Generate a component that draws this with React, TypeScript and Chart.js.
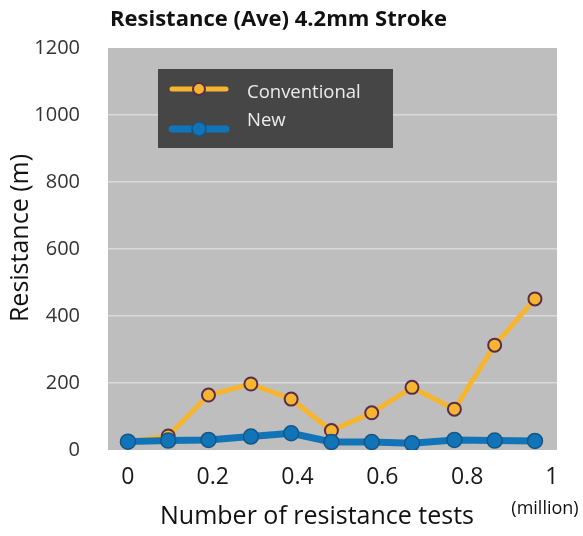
import React, { useEffect, useRef } from "react";
import { Chart, registerables } from "chart.js";

Chart.register(...registerables);

const TITLE = "Resistance (Ave) 4.2mm Stroke";
const Y_TITLE = "Resistance (m)";
const X_TITLE = "Number of resistance tests";
const X_UNIT = "(million)";

const xValues = [0, 0.095, 0.19, 0.29, 0.385, 0.48, 0.575, 0.67, 0.77, 0.865, 0.96];
const conventional = [25, 42, 164, 197, 152, 58, 111, 187, 122, 313, 451];
const newValues = [25, 28, 30, 40, 50, 24, 24, 20, 30, 28, 27];
const xTicks = [0, 0.2, 0.4, 0.6, 0.8, 1];
const yTicks = [0, 200, 400, 600, 800, 1000, 1200];
const seriesLabels = ["Conventional", "New"];

const FONT = "'Open Sans', 'DejaVu Sans', sans-serif";

const bgPlugin = {
  id: "plotBg",
  beforeDraw(chart: any) {
    const { ctx, chartArea } = chart;
    ctx.save();
    ctx.fillStyle = "#ffffff";
    ctx.fillRect(0, 0, chart.width, chart.height);
    ctx.fillStyle = "#bebebe";
    ctx.fillRect(chartArea.left, chartArea.top, chartArea.right - chartArea.left, chartArea.bottom - chartArea.top);
    ctx.restore();
  },
};

const textPlugin = {
  id: "axisTexts",
  afterDraw(chart: any) {
    const { ctx } = chart;
    ctx.save();
    ctx.fillStyle = "#111";
    ctx.textAlign = "center";
    ctx.textBaseline = "middle";
    ctx.font = `25px ${FONT}`;
    ctx.translate(21, 238);
    ctx.rotate(-Math.PI / 2);
    ctx.fillText(Y_TITLE, 0, 0);
    ctx.restore();

    ctx.save();
    ctx.fillStyle = "#111";
    ctx.textAlign = "center";
    ctx.textBaseline = "middle";
    ctx.font = `25px ${FONT}`;
    ctx.fillText(X_TITLE, 317, 517);
    ctx.font = `18px ${FONT}`;
    ctx.fillText(X_UNIT, 545, 509);
    ctx.restore();
  },
};

const legendPlugin = {
  id: "boxLegend",
  afterDraw(chart: any) {
    const { ctx } = chart;
    const ds = chart.data.datasets;
    ctx.save();
    ctx.fillStyle = "#464646";
    ctx.fillRect(158, 69, 235, 79);
    const rows = [89, 129];
    const textY = [93, 121];
    ds.forEach((d: any, i: number) => {
      const y = rows[i];
      ctx.strokeStyle = d.borderColor;
      ctx.lineWidth = d.borderWidth;
      ctx.lineCap = "round";
      ctx.beginPath();
      ctx.moveTo(172, y);
      ctx.lineTo(226, y);
      ctx.stroke();
      ctx.beginPath();
      ctx.arc(199, y, d.pointRadius - 0.5, 0, Math.PI * 2);
      ctx.fillStyle = d.pointBackgroundColor;
      ctx.fill();
      ctx.lineWidth = d.pointBorderWidth;
      ctx.strokeStyle = d.pointBorderColor;
      ctx.stroke();
      ctx.fillStyle = "#ececec";
      ctx.font = `18.5px ${FONT}`;
      ctx.textAlign = "left";
      ctx.textBaseline = "middle";
      ctx.fillText(d.label, 247, textY[i]);
    });
    ctx.restore();
  },
};

export default function App() {
  const ref = useRef<HTMLCanvasElement | null>(null);
  useEffect(() => {
    if (!ref.current) return;
    const chart = new Chart(ref.current, {
      type: "line",
      data: {
        datasets: [
          {
            label: seriesLabels[0],
            data: xValues.map((x, i) => ({ x, y: conventional[i] })),
            borderColor: "#f6b52e",
            backgroundColor: "#f6b52e",
            borderWidth: 5,
            pointRadius: 6.5,
            pointBackgroundColor: "#f6b52e",
            pointBorderColor: "#5a2c4c",
            pointBorderWidth: 2,
            order: 1,
          },
          {
            label: seriesLabels[1],
            data: xValues.map((x, i) => ({ x, y: newValues[i] })),
            borderColor: "#1174b9",
            backgroundColor: "#1174b9",
            borderWidth: 7,
            pointRadius: 7.5,
            pointBackgroundColor: "#1174b9",
            pointBorderColor: "#165582",
            pointBorderWidth: 1.5,
            order: 0,
          },
        ],
      },
      options: {
        responsive: false,
        animation: false,
        layout: { padding: { left: 0, right: 26, top: 5, bottom: 0 } },
        plugins: {
          legend: { display: false },
          tooltip: { enabled: false },
          title: {
            display: true,
            text: TITLE,
            color: "#111",
            font: { family: FONT, size: 22, weight: "bold" },
            padding: { top: 2, bottom: 14.6 },
          },
        },
        scales: {
          x: {
            type: "linear",
            min: -0.047,
            max: 1.012,
            afterBuildTicks: (s: any) => {
              s.ticks = xTicks.map((v) => ({ value: v }));
            },
            afterFit: (s: any) => {
              s.height = 86;
            },
            grid: { display: false, drawTicks: false },
            border: { display: false },
            ticks: {
              padding: 14,
              color: "#1a1a1a",
              font: { family: FONT, size: 23 },
              autoSkip: false,
              maxRotation: 0,
              callback: (v: any) => String(v),
            },
          },
          y: {
            min: 0,
            max: 1200,
            afterBuildTicks: (s: any) => {
              s.ticks = yTicks.map((v) => ({ value: v }));
            },
            afterFit: (s: any) => {
              s.width = 108;
            },
            grid: {
              color: (c: any) => (c.tick && (c.tick.value === 0 || c.tick.value === 1200) ? "rgba(0,0,0,0)" : "#d9d9d9"),
              lineWidth: 1.5,
              drawTicks: false,
            },
            border: { display: false },
            ticks: {
              padding: 28,
              color: "#333",
              font: { family: FONT, size: 20 },
              callback: (v: any) => String(v),
            },
          },
        },
      },
      plugins: [bgPlugin, textPlugin, legendPlugin],
    } as any);
    return () => chart.destroy();
  }, []);
  return (
    <div style={{ position: "fixed", left: 0, top: 0, width: 583, height: 536, background: "#fff" }}>
      <canvas ref={ref} width={583} height={536} />
    </div>
  );
}
